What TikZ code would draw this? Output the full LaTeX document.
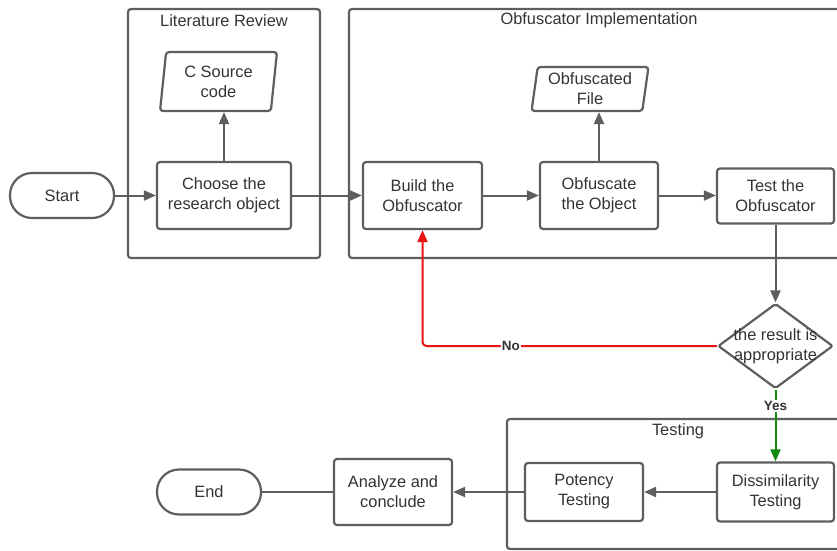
\documentclass[tikz,border=0pt]{standalone}
\usepackage{fontspec}
\setmainfont{Liberation Sans}
\usetikzlibrary{arrows.meta,shapes.geometric}
\definecolor{ln}{HTML}{5E5E5E}
\definecolor{tx}{HTML}{333333}
\definecolor{nored}{HTML}{E81313}
\definecolor{yesgreen}{HTML}{108A10}
\tikzset{
  every node/.style={text=tx, font=\fontsize{16.4}{20}\selectfont, align=center},
  box/.style={draw=ln, line width=2.2pt, rounded corners=3pt, inner sep=0pt},
  container/.style={draw=ln, line width=2.2pt, rounded corners=3pt},
  term/.style={draw=ln, line width=2.2pt, rounded corners=22pt, inner sep=0pt, minimum width=104pt, minimum height=45pt},
  io/.style={draw=ln, line width=2.2pt, rounded corners=3pt, shape=trapezium, trapezium left angle=79, trapezium right angle=101, trapezium stretches body, inner sep=0pt},
  dia/.style={draw=ln, line width=2.2pt, shape=diamond, inner sep=0pt, minimum width=115pt, minimum height=85pt, aspect=1.35, rounded corners=2pt},
  tip/.style={-{Triangle[length=12pt,width=10pt]}},
  conn/.style={draw=ln, line width=2pt, tip},
  plain/.style={draw=ln, line width=2pt},
  lbl/.style={font=\fontsize{13.5}{15}\bfseries, fill=white, inner sep=1pt, text=tx},
}
\begin{document}
\begin{tikzpicture}[x=1pt,y=-1pt]
\useasboundingbox (0,0) rectangle (837,550);
% containers
\draw[container] (128,9) rectangle (320,258);
\node (tlit) at (224,20.5) {Literature Review};
\draw[container] (349,9) rectangle (850,258);
\node (tobf) at (599,20.5) {Obfuscator Implementation};
\draw[container] (507,419) rectangle (850,549);
\node (ttest) at (678,431) {Testing};
% nodes
\node[term] (start) at (62,195.5) {Start};
\node[box, minimum width=134pt, minimum height=67pt] (choose) at (224,195.5) {Choose the\\research object};
\node[io, minimum width=117pt, minimum height=59pt] (csrc) at (218.5,81.5) {C Source\\code};
\node[box, minimum width=119pt, minimum height=67pt] (build) at (422.5,195.5) {Build the\\Obfuscator};
\node[box, minimum width=118pt, minimum height=67pt] (obj) at (599,195.5) {Obfuscate\\the Object};
\node[io, minimum width=117pt, minimum height=44pt] (ofile) at (590,89) {Obfuscated\\File};
\node[box, minimum width=117pt, minimum height=55pt] (testo) at (775.5,196) {Test the\\Obfuscator};
\node[dia] (dec) at (775.5,346) {};
\node (dectxt) at (dec.center) {the result is\\appropriate};
\node[box, minimum width=117pt, minimum height=59pt] (diss) at (775.5,492) {Dissimilarity\\Testing};
\node[box, minimum width=118pt, minimum height=58pt] (pot) at (584,492) {Potency\\Testing};
\node[box, minimum width=118pt, minimum height=66pt] (anal) at (393,492) {Analyze and\\conclude};
\node[term] (end) at (209,492) {End};
% connectors
\draw[conn] (start) -- (choose);
\draw[conn] (choose) -- (csrc.south -| choose.north);
\draw[conn] (choose) -- (build);
\draw[conn] (build) -- (obj);
\draw[conn] (obj.north) -- (obj.north |- ofile.south);
\draw[conn] (obj) -- (obj -| testo.west);
\draw[conn] (testo) -- (dec.north);
\draw[conn, draw=nored, -{Triangle[length=12pt,width=10pt,fill=nored]}, rounded corners=4pt] (dec.west) -- (build.south |- dec.west) node[lbl, pos=0.70] {No} -- (build.south);
\draw[conn, draw=yesgreen, -{Triangle[length=12pt,width=10pt,fill=yesgreen]}] (dec.south) -- (diss.north) node[lbl, pos=0.23] {Yes};
\draw[conn] (diss) -- (pot);
\draw[conn] (pot) -- (anal);
\draw[plain] (anal) -- (end);
\end{tikzpicture}
\end{document}
